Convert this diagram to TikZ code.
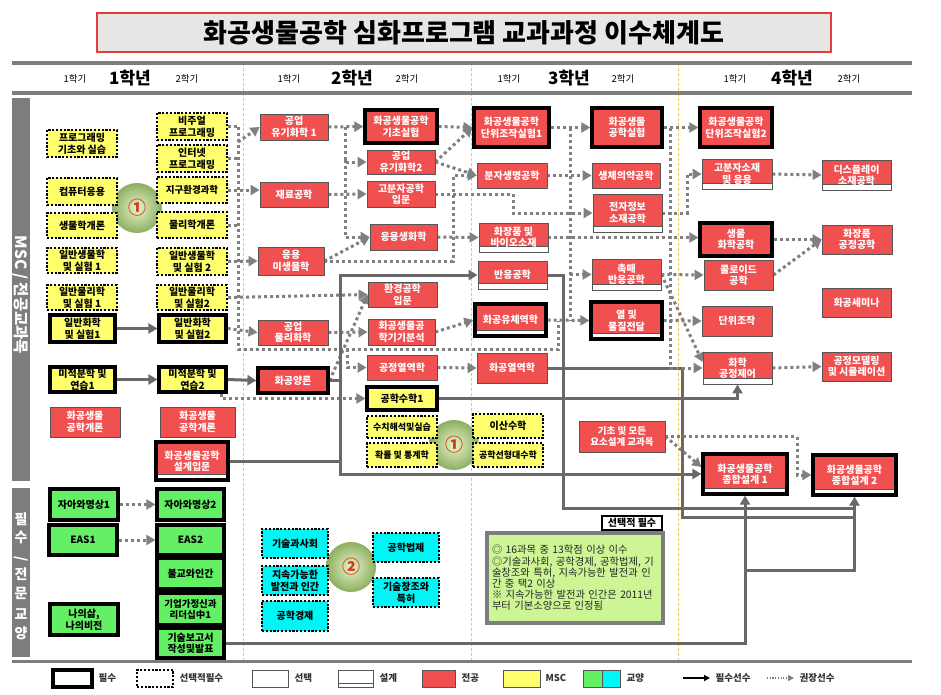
\documentclass[tikz,border=0pt]{standalone}
\usepackage{fontspec}
\setmainfont{Noto Sans CJK KR}
\usetikzlibrary{arrows.meta}
\definecolor{majred}{RGB}{240,80,80}
\definecolor{mscy}{RGB}{255,255,110}
\definecolor{libg}{RGB}{100,240,100}
\definecolor{libc}{RGB}{0,245,245}
\definecolor{bgray}{RGB}{85,85,85}
\definecolor{lgray}{RGB}{105,105,105}
\definecolor{dgray}{RGB}{128,128,128}
\definecolor{hgray}{RGB}{125,125,125}
\definecolor{notegreen}{RGB}{205,245,150}
\definecolor{colline}{RGB}{235,200,90}
\definecolor{numred}{RGB}{215,55,20}
\definecolor{titlered}{RGB}{228,60,60}
\definecolor{titlegray}{RGB}{230,230,230}
\definecolor{cin}{RGB}{232,244,205}
\definecolor{cout}{RGB}{140,175,95}
\newcommand\fs{\fontsize{10}{11.5}\selectfont}
\newcommand\fsm{\fontsize{9.5}{11}\selectfont}
\newcommand\fss{\fontsize{9}{10}\selectfont}
\newcommand\bx[7]{\node[#1, minimum width={(#5)-(#3)}, minimum height={(#6)-(#4)}] (#2) at ({((#3)+(#5))/2},{((#4)+(#6))/2}) {#7};}
\pgfdeclarelayer{back}\pgfdeclarelayer{bg}\pgfsetlayers{back,bg,main}
\tikzset{
 base/.style={rectangle, inner sep=0.5pt, align=center, font=\fs\bfseries},
 maj/.style={base, fill=majred, draw=bgray, line width=0.8pt, text=white},
 msc/.style={base, fill=mscy, draw=bgray, line width=0.8pt, text=black},
 lib/.style={base, fill=libg, text=black},
 cyn/.style={base, fill=libc, text=black},
 must/.style={draw=black, line width=3.2pt},
 choice/.style={draw=black, line width=2.2pt, dash pattern=on 2.2pt off 1.6pt},
 dsg/.style={path picture={\fill[white] (path picture bounding box.south west) rectangle ([yshift=#1]path picture bounding box.south east); \draw[bgray,line width=0.8pt] ([yshift=#1]path picture bounding box.south west) -- ([yshift=#1]path picture bounding box.south east);}},
 dsg/.default=6pt,
 opt/.style={draw=dgray, line width=3pt, dash pattern=on 3pt off 3pt},
 need/.style={draw=lgray, line width=3pt},
 tip/.style={-{Triangle[length=9pt,width=10pt]}},
 ball/.style={circle, minimum size=50pt, inner sep=0pt, shading=radial, inner color=cin, outer color=cout, text=numred, font=\fontsize{18}{18}\selectfont\bfseries},
 lgt/.style={anchor=west, font=\fontsize{9.5}{10}\selectfont\bfseries, text=black!80},
}
\begin{document}
\begin{tikzpicture}[x=1pt,y=-1pt]
\useasboundingbox (0,0) rectangle (941,694);
\begin{pgfonlayer}{back}
\fill[white] (0,0) rectangle (941,694);
\foreach \x in {243,471,678} \draw[colline, line width=0.8pt, dash pattern=on 3pt off 2pt] (\x,63) -- (\x,660);
\end{pgfonlayer}

% title
\node[draw=titlered, line width=1.8pt, fill=titlegray, minimum width=734pt, minimum height=39pt, font=\fontsize{26}{26}\selectfont\bfseries] (title) at (464,32.5) {화공생물공학 심화프로그램 교과과정 이수체계도};

\draw[hgray, line width=4pt] (12,63) -- (912,63);
\draw[hgray, line width=4pt] (12,93) -- (912,93);
\draw[hgray, line width=3pt] (12,661) -- (912,661);

\foreach \i/\xa/\xb/\xc in {1/75/130/187, 2/289/352/407, 3/509/569/623, 4/735/792/849} {
 \node[font=\fontsize{9.5}{9.5}\selectfont] (sa\i) at (\xa,79) {1학기};
 \node[font=\fontsize{17}{17}\selectfont\bfseries] (yr\i) at (\xb,78) {\i{}학년};
 \node[font=\fontsize{9.5}{9.5}\selectfont] (sb\i) at (\xc,79) {2학기};
}

% side bars
\fill[hgray] (12,98) rectangle (30,481);
\node[rotate=-90, text=white, font=\fontsize{15.5}{15.5}\selectfont\bfseries] (side1) at (21,295) {MSC / 전공교과목};
\fill[hgray] (12,488) rectangle (30,657);
\node[text=white, align=center, font=\fontsize{14}{18.5}\selectfont\bfseries] (side2) at (21,576) {필\\수\\\rotatebox{90}{/}\\전\\문\\[3pt]교\\양};

% circles
\node[ball] (k1) at (137,208) {①};
\node[ball] (k2) at (454,445) {①};
\node[ball] (k3) at (351,567) {②};

% column A
\bx{msc,choice}{a1}{47}{130}{117}{157}{프로그래밍\\기초와 실습}
\bx{msc,choice}{a2}{47}{178}{117}{205}{컴퓨터응용}
\bx{msc,choice}{a3}{47}{213}{117}{238}{생물학개론}
\bx{msc,choice}{a4}{47}{248}{117}{273}{일반생물학\\및 실험 1}
\bx{msc,choice}{a5}{47}{285}{117}{310}{일반물리학\\및 실험 1}
\bx{msc,must}{a6}{50}{315}{115}{342}{일반화학\\및 실험1}
\bx{msc,must}{a7}{50}{367}{115}{392}{미적분학 및\\연습1}
\bx{maj}{a8}{50}{407}{120}{437}{화공생물\\공학개론}
% column B
\bx{msc,choice}{b1}{157}{113}{227}{140}{비주얼\\프로그래밍}
\bx{msc,choice}{b2}{157}{145}{227}{172}{인터넷\\프로그래밍}
\bx{msc,choice,font=\fsm\bfseries}{b3}{157}{177}{227}{203}{지구환경과학}
\bx{msc,choice}{b4}{157}{212}{227}{238}{물리학개론}
\bx{msc,choice}{b5}{157}{248}{227}{275}{일반생물학\\및 실험 2}
\bx{msc,choice}{b6}{157}{285}{227}{310}{일반물리학\\및 실험2}
\bx{msc,must}{b7}{159}{315}{226}{342}{일반화학\\및 실험2}
\bx{msc,must}{b8}{159}{367}{226}{392}{미적분학 및\\연습2}
\bx{maj}{b9}{160}{407}{235}{437}{화공생물\\공학개론}
\bx{maj,must,dsg}{b10}{156}{442}{228}{480}{화공생물공학\\설계입문}
% liberal arts
\bx{lib,must}{g1}{50}{489}{118}{520}{자아와명상1}
\bx{lib,must}{g2}{157}{489}{224}{520}{자아와명상2}
\bx{lib,must}{g3}{49}{525}{117}{555}{EAS1}
\bx{lib,must}{g4}{157}{525}{224}{555}{EAS2}
\bx{lib,must}{g5}{157}{558}{224}{589}{불교와인간}
\bx{lib,must,font=\fsm\bfseries}{g6}{157}{593}{224}{625}{기업가정신과\\리더십中1}
\bx{lib,must}{g7}{50}{604}{118}{635}{나의삶,\\나의비전}
\bx{lib,must}{g8}{157}{628}{224}{658}{기술보고서\\작성및발표}
\bx{cyn,choice}{t1}{262}{529}{328}{558}{기술과사회}
\bx{cyn,choice}{t2}{262}{566}{328}{595}{지속가능한\\발전과 인간}
\bx{cyn,choice}{t3}{262}{601}{328}{631}{공학경제}
\bx{cyn,choice}{t4}{373}{533}{439}{562}{공학법제}
\bx{cyn,choice}{t5}{373}{578}{439}{607}{기술창조와\\특허}
% column C
\bx{maj}{c1}{260}{114}{328}{140}{공업\\유기화학 1}
\bx{maj}{c2}{260}{182}{328}{207}{재료공학}
\bx{maj}{c3}{258}{247}{324}{275}{응용\\미생물학}
\bx{maj}{c4}{258}{320}{328}{345}{공업\\물리화학}
\bx{maj,must}{c5}{258}{368}{328}{393}{화공양론}
% column D
\bx{maj,must}{d1}{365}{110}{437}{143}{화공생물공학\\기초실험}
\bx{maj}{d2}{367}{150}{435}{174}{공업\\유기화학2}
\bx{maj}{d3}{367}{181}{435}{207}{고분자공학\\입문}
\bx{maj}{d4}{370}{224}{437}{250}{응용생화학}
\bx{maj}{d5}{368}{282}{437}{307}{환경공학\\입문}
\bx{maj}{d6}{368}{319}{435}{345}{화공생물공\\학기기분석}
\bx{maj}{d7}{367}{355}{437}{380}{공정열역학}
\bx{msc,must}{d8}{367}{387}{437}{410}{공학수학1}
\bx{msc,choice,font=\fss\bfseries}{d9}{367}{416}{437}{438}{수치해석및실습}
\bx{msc,choice,font=\fss\bfseries}{d10}{367}{443}{437}{467}{확률 및 통계학}
% column E
\bx{maj,must}{e1}{474}{108}{549}{147}{화공생물공학\\단위조작실험1}
\bx{maj}{e2}{477}{163}{547}{188}{분자생명공학}
\bx{maj,dsg}{e3}{479}{223}{548}{252}{화장품 및\\바이오소재}
\bx{maj,dsg}{e4}{478}{261}{547}{289}{반응공학}
\bx{maj,must,dsg}{e5}{475}{304}{546}{336}{화공유체역학}
\bx{maj}{e6}{477}{353}{547}{383}{화공열역학}
\bx{msc,choice}{e7}{473}{414}{543}{438}{이산수학}
\bx{msc,choice,font=\fss\bfseries}{e8}{473}{443}{543}{467}{공학선형대수학}
% column F
\bx{maj,must}{f1}{592}{108}{662}{147}{화공생물\\공학실험}
\bx{maj}{f2}{592}{163}{660}{188}{생체의약공학}
\bx{maj,dsg}{f3}{593}{194}{662}{232}{전자정보\\소재공학}
\bx{maj,dsg}{f4}{592}{259}{661}{290}{촉매\\반응공학}
\bx{maj,must,dsg}{f5}{591}{302}{662}{339}{열 및\\물질전달}
\bx{maj,font=\fsm\bfseries}{f6}{579}{421}{665}{452}{기초 및 모든\\요소설계 교과목}
% column G
\bx{maj,must}{h1}{700}{108}{772}{147}{화공생물공학\\단위조작실험2}
\bx{maj,dsg}{h2}{702}{159}{772}{189}{고분자소재\\및 응용}
\bx{maj,must}{h3}{700}{223}{772}{256}{생물\\화학공학}
\bx{maj}{h4}{704}{260}{773}{290}{콜로이드\\공학}
\bx{maj}{h5}{702}{306}{772}{336}{단위조작}
\bx{maj,dsg}{h6}{703}{352}{772}{384}{화학\\공정제어}
\bx{maj,must,dsg}{s1}{703}{454}{787}{494}{화공생물공학\\종합설계 1}
% column H
\bx{maj,dsg}{i1}{822}{160}{891}{190}{디스플레이\\소재공학}
\bx{maj}{i2}{822}{225}{892}{254}{화장품\\공정공학}
\bx{maj}{i3}{822}{288}{891}{317}{화공세미나}
\bx{maj}{i4}{822}{352}{891}{381}{공정모델링\\및 시뮬레이션}
\bx{maj,must,dsg}{s2}{813}{455}{896}{495}{화공생물공학\\종합설계 2}

% note
\bx{base,draw=black,line width=2.2pt,fill=white,text=black}{selreq}{602}{516}{662}{530}{선택적 필수}
\node[draw=hgray, line width=3.5pt, fill=notegreen, text width=166pt, inner xsep=5pt, inner ysep=5pt, minimum height=90pt, align=left, font=\fontsize{10.3}{11.2}\selectfont, text=black!85] (note) at (575,578) {◎ 16과목 중 13학점 이상 이수\\◎기술과사회, 공학경제, 공학법제, 기\\술창조와 특허, 지속가능한 발전과 인\\간 중 택2 이상\\※ 지속가능한 발전과 인간은 2011년\\부터 기본소양으로 인정됨};

% connectors
\begin{pgfonlayer}{bg}
\draw[need,tip] (a6) -- (b7);
\draw[need,tip] (a7) -- (b8);
\draw[opt,tip] (g1) -- (g2);
\draw[opt,tip] (g3) -- (g4);
% left bus
\draw[opt] (b1.east) -- (238,126.5);
\draw[opt] (b2.east) -- (238,158.5);
\draw[opt] (b4.east) -- (238,225);
\draw[opt] (238,126.5) -- (238,349) -- (558,349) -- (558,320.5);
\draw[opt,tip] (238,142) -- (c1.west);
\draw[opt,tip] (b3.east) -- (c2.west |- b3.east);
\draw[opt,tip] (b5.east) -- (c3.west);
\draw[opt,tip] (b6.east) -- (d5.west);
\draw[opt,tip] (b7.east) -- (c4.west);
\draw[opt,tip] ([xshift=-6pt]b8.south east) |- (d8.west);
% C -> D
\draw[opt,tip] (c1.east) -- (d1.west);
\draw[opt,tip] (345,127) |- (d2.west);
\draw[opt,tip] (345,160) |- (d4.west);
\draw[opt,tip] (c2.east) -- (d3.west);
\draw[opt,tip] (c3.east) -- (d4.west);
\draw[opt,tip] (c3.east) -- (453,261) -- (453,175.5) -- (e2.west);
\draw[opt,tip] (c4.east) -- (d6.west);
\draw[opt,tip] (c5.east) -- (d5.west);
\draw[opt,tip] (347,349) |- (d7.west);
% required lines
\draw[need,tip] (b8.east) -- (c5.west);
\draw[need] (c5.east) -- (340,380.5);
\draw[need,tip] (340,380.5) |- (e4.west);
\draw[need,tip] (340,380.5) |- (s1.west);
\draw[need] (b10.east) -- (340,461);
\draw[need] (e4.east) -- (563,275) -- (563,508) -- (855,508);
\draw[need] (e6.east) -- (682,368) -- (682,517) -- (855,517);
\draw[need,tip] (d8.east) -| (h6.south);
\draw[need,tip] (g8.east) -| (s1.south);
\draw[need,tip] (745,570) -| (s2.south);
% D -> E
\draw[opt,tip] (d1.east) -- (e1.west);
\draw[opt,tip] (d2.east) -- (e1.west);
\draw[opt,tip] (d2.east) -- (e2.west);
\draw[opt,tip] (d3.east) -- (513,194) |- (f3.west);
\draw[opt,tip] (d4.east) -- (e3.west);
\draw[opt,tip] (d6.east) -- (e5.west);
\draw[opt,tip] (d7.east) -- (e6.west);
% E -> F
\draw[opt,tip] (e1.east) -- (f1.west);
\draw[opt,tip] (e2.east) -- (f2.west);
\draw[opt] (570,127.5) -- (570,320.5);
\draw[opt,tip] (570,274.5) -- (f4.west);
\draw[opt,tip] (e5.east) -- (f5.west);
% F -> G
\draw[opt,tip] (f1.east) -- (h1.west);
\draw[opt,tip] (670,127.5) |- (h6.west);
\draw[opt,tip] (e3.east) -- (h3.west |- e3.east);
\draw[opt,tip] (f3.east) -- (687,213) |- (h2.west);
\draw[opt,tip] (f4.east) -- (h4.west);
\draw[opt,tip] (f4.east) -- ([yshift=6pt]h6.west);
\draw[opt,tip] (f5.east) -- (h5.west);
% G -> H
\draw[opt,tip] (h2.east) -- (i1.west);
\draw[opt,tip] (h3.east) -- (i2.west);
\draw[opt,tip] (h4.east) -- (i2.west);
\draw[opt,tip] (h6.east) -- (i4.west);
\draw[opt,tip] (f6.east) -- (797,436.5) |- (s2.west);
\draw[opt,tip] (f6.east) -- ([yshift=7pt]s1.west);
\end{pgfonlayer}

% legend
\bx{base,must,fill=white}{lg1}{53}{670}{92}{687}{}
\node[lgt] (lt1) at (95,678) {필수};
\bx{base,choice,fill=white}{lg2}{137}{670}{173}{687}{}
\node[lgt] (lt2) at (176,678) {선택적필수};
\bx{base,draw=bgray,line width=0.8pt,fill=white}{lg3}{252}{670}{288}{687}{}
\node[lgt] (lt3) at (291,678) {선택};
\bx{base,draw=bgray,line width=0.8pt,fill=white,dsg=4pt}{lg4}{338}{670}{373}{687}{}
\node[lgt] (lt4) at (376,678) {설계};
\bx{maj}{lg5}{422}{670}{455}{687}{}
\node[lgt] (lt5) at (458,678) {전공};
\bx{msc}{lg6}{503}{670}{540}{687}{}
\node[lgt] (lt6) at (542,678) {MSC};
\bx{lib,draw=bgray,line width=0.8pt}{lg7}{583}{670}{602}{687}{}
\bx{cyn,draw=bgray,line width=0.8pt}{lg8}{602}{670}{620}{687}{}
\node[lgt] (lt7) at (623,678) {교양};
\coordinate (la1) at (683,678);
\coordinate (la2) at (710,678);
\draw[black, line width=1.5pt, -{Triangle[length=6pt,width=6pt]}] (la1) -- (la2);
\node[lgt] (lt8) at (712,678) {필수선수};
\coordinate (lb1) at (767,678);
\coordinate (lb2) at (794,678);
\draw[dgray, line width=1.2pt, dash pattern=on 1.2pt off 1.5pt, -{Triangle[length=6pt,width=6pt]}] (lb1) -- (lb2);
\node[lgt] (lt9) at (796,678) {권장선수};
\end{tikzpicture}
\end{document}
